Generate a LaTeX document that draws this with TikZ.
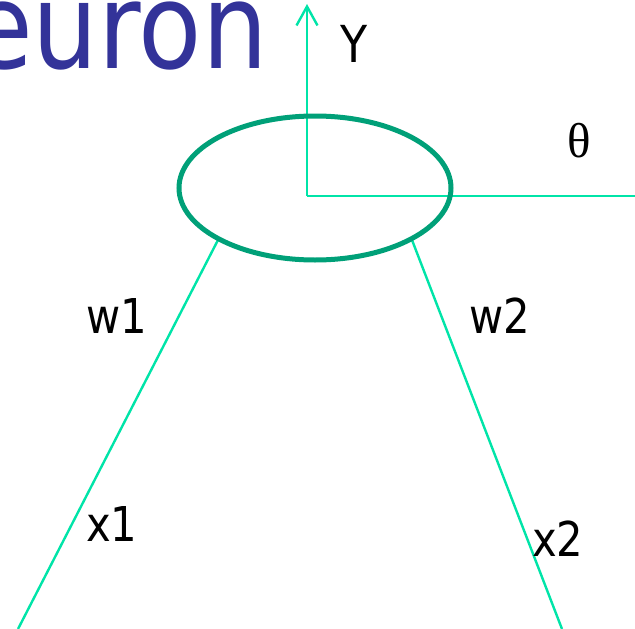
\documentclass[tikz,border=0pt]{standalone}
\usepackage{fontspec}
\setmainfont{DejaVu Sans}[FakeStretch=0.87]
\newfontfamily\thetafont{Liberation Serif}
\usetikzlibrary{shapes.geometric,arrows.meta}
\definecolor{titleblue}{RGB}{51,51,153}
\definecolor{ringgreen}{RGB}{0,160,120}
\definecolor{linegreen}{RGB}{0,228,168}
\tikzset{
  wire/.style={draw=linegreen, line width=2.4pt},
  lbl/.style={inner sep=0pt, anchor=base west, font=\fontsize{48}{48}\selectfont},
}
\begin{document}
\begin{tikzpicture}[x=1pt,y=-1pt]
\useasboundingbox (0,0) rectangle (635,629);
% wires
\coordinate (in1) at (18,629);
\coordinate (in2) at (562,629);
\coordinate (top1) at (218,240);
\coordinate (top2) at (412,240);
\coordinate (c) at (307,196);
\coordinate (ytip) at (307,4);
\coordinate (th) at (635,196);
\draw[wire] (in1) -- (top1);
\draw[wire] (in2) -- (top2);
\draw[wire, -{Straight Barb[length=19pt,width=21pt,line width=2.4pt]}] (c) -- (ytip);
\draw[wire] (c) -- (th);
% neuron body
\node[draw=ringgreen, line width=5pt, ellipse, minimum width=272pt, minimum height=144pt, inner sep=0pt] (neuron) at (315,188) {};
% title fragment
\node[inner sep=0pt, anchor=base east, text=titleblue, font=\fontsize{119}{119}\selectfont] (title) at (268,68) {Neuron};
% labels
\node[lbl, font=\fontsize{51}{51}\selectfont] (ylab) at (340,62) {Y};
\node[inner sep=0pt, anchor=base west, font=\thetafont\fontsize{49}{49}\selectfont] (thlab) at (567,157) {θ};
\node[lbl] (w1) at (86,333) {w1};
\node[lbl] (w2) at (469,333) {w2};
\node[lbl] (x1) at (86,541) {x1};
\node[lbl] (x2) at (532,556) {x2};
\end{tikzpicture}
\end{document}
